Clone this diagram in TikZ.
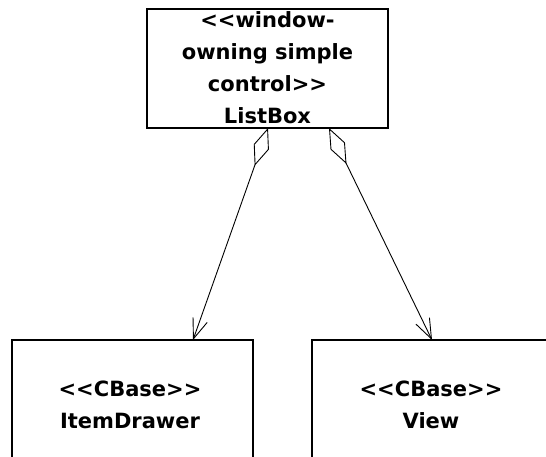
\documentclass[tikz,border=0pt]{standalone}
\usepackage{fontspec}
\setmainfont{DejaVu Sans}[Ligatures=TeXOff]
\usetikzlibrary{arrows.meta,calc}
\tikzset{
  classbox/.style={draw=black, line width=1.6pt, fill=white, inner sep=0pt, outer sep=0pt},
  classtext/.style={align=center, inner sep=0pt, font=\fontsize{21}{32}\selectfont\bfseries},
  aggr/.style={line width=0.9pt, line join=miter,
    {Diamond[open, fill=white, length=40pt, width=16pt]}-{Straight Barb[length=20pt, width=15pt]}}
}
\begin{document}
\begin{tikzpicture}[x=1pt,y=-1pt]
\useasboundingbox (0,0) rectangle (546,456);
\clip (0,0) rectangle (546,456);
\fill[white] (0,0) rectangle (546,456);
\node[classbox, minimum width=241pt, minimum height=119pt, anchor=north west] (lb) at (147,9) {};
\node[classtext] (lbt) at (267.5,67.5) {<<window-\\owning simple\\control>>\\ListBox};
\node[classbox, minimum width=241pt, minimum height=200pt, anchor=north west] (id) at (12,340) {};
\node[classtext] (idt) at (130,405) {<<CBase>>\\ItemDrawer};
\node[classbox, minimum width=241pt, minimum height=200pt, anchor=north west] (vw) at (312,340) {};
\node[classtext] (vwt) at (431,405) {<<CBase>>\\View};
\draw[aggr] ($(lb.south west)+(121,0)$) -- ($(id.north west)+(181,0)$);
\draw[aggr] ($(lb.south west)+(182,0)$) -- ($(vw.north west)+(120,0)$);
\end{tikzpicture}
\end{document}
